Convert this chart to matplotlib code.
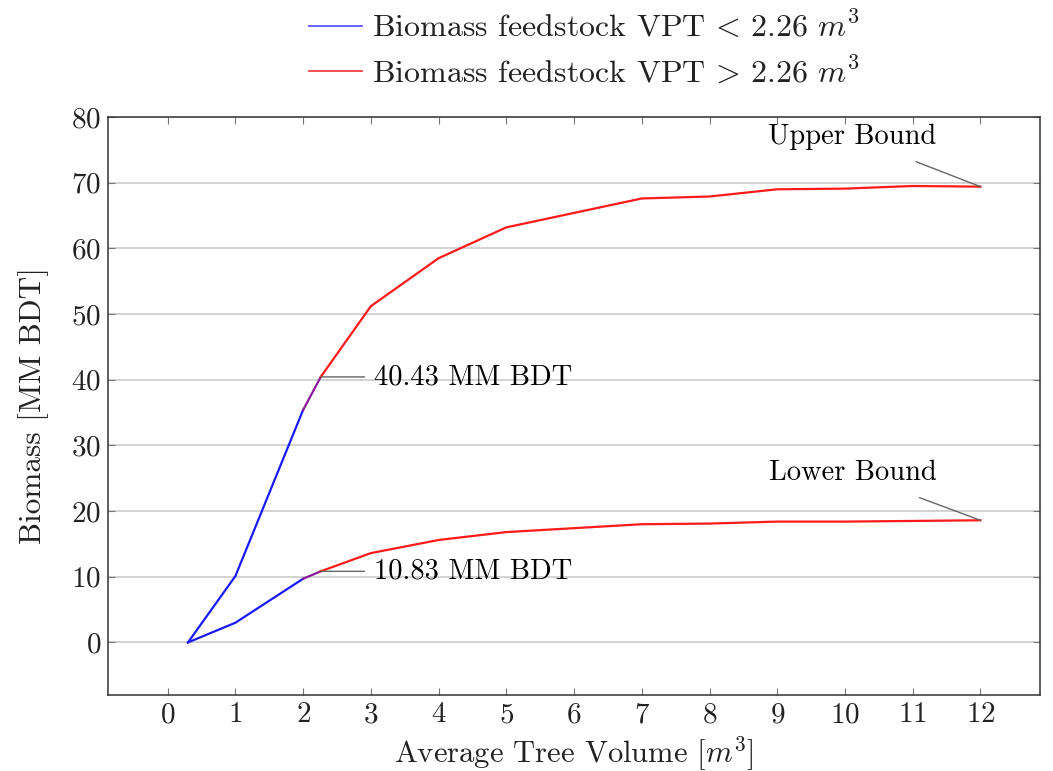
import numpy as np
import matplotlib
matplotlib.use("Agg")
import matplotlib.pyplot as plt

plt.rcParams['font.family'] = 'serif'
plt.rcParams['font.serif'] = ['cmr10', 'DejaVu Serif']
plt.rcParams['mathtext.fontset'] = 'cm'
plt.rcParams['axes.formatter.use_mathtext'] = True

# --- data ---
upper_low_x = [0.3, 1, 2]
upper_low_y = [0.0, 10.1, 35.4]
upper_high_x = [2.26, 3, 4, 5, 6, 7, 8, 9, 10, 11, 12]
upper_high_y = [40.43, 51.2, 58.5, 63.2, 65.4, 67.6, 67.9, 69.0, 69.1, 69.5, 69.4]

lower_low_x = [0.3, 1, 2]
lower_low_y = [0.0, 3.0, 9.7]
lower_high_x = [2.26, 3, 4, 5, 6, 7, 8, 9, 10, 11, 12]
lower_high_y = [10.83, 13.6, 15.6, 16.8, 17.4, 18.0, 18.1, 18.4, 18.4, 18.5, 18.6]

x_ticks = list(range(0, 13))
y_ticks = list(range(0, 81, 10))

BLUE = '#1a1aff'
RED = '#ff1a1a'
MIX = '#8a1a9a'

fig = plt.figure(figsize=(10.53, 7.71), dpi=100)
ax = fig.add_axes([0.1026, 0.0986, 0.8851, 0.7496])

for lx, ly, hx, hy in [(upper_low_x, upper_low_y, upper_high_x, upper_high_y),
                       (lower_low_x, lower_low_y, lower_high_x, lower_high_y)]:
    ax.plot(lx, ly, color=BLUE, lw=1.6, zorder=3)
    ax.plot([lx[-1], hx[0]], [ly[-1], hy[0]], color=MIX, lw=1.6, zorder=3)
    ax.plot(hx, hy, color=RED, lw=1.6, zorder=3)

# annotations
ann_color = '#666666'
FS_ANN = 20.5
ax.annotate('40.43 MM BDT', xy=(upper_high_x[0], upper_high_y[0]), xytext=(3.05, upper_high_y[0]),
            fontsize=FS_ANN, va='center', ha='left',
            arrowprops=dict(arrowstyle='-', color=ann_color, lw=1.0, shrinkA=5, shrinkB=0))
ax.annotate('10.83 MM BDT', xy=(lower_high_x[0], lower_high_y[0]), xytext=(3.05, lower_high_y[0]),
            fontsize=FS_ANN, va='center', ha='left',
            arrowprops=dict(arrowstyle='-', color=ann_color, lw=1.0, shrinkA=5, shrinkB=0))
ax.annotate('Upper Bound', xy=(upper_high_x[-1], upper_high_y[-1]), xytext=(10.1, 77.0),
            fontsize=FS_ANN, va='center', ha='center',
            arrowprops=dict(arrowstyle='-', color=ann_color, lw=1.0, shrinkA=18, shrinkB=0))
ax.annotate('Lower Bound', xy=(lower_high_x[-1], lower_high_y[-1]), xytext=(10.12, 25.8),
            fontsize=FS_ANN, va='center', ha='center',
            arrowprops=dict(arrowstyle='-', color=ann_color, lw=1.0, shrinkA=18, shrinkB=0))

ax.set_xlim(-0.88, 12.88)
ax.set_ylim(-8, 80)
ax.set_xticks(x_ticks)
ax.set_yticks(y_ticks)
ax.tick_params(direction='in', length=5, width=0.8, color='#777777', labelsize=21,
               top=True, right=True, labelcolor='#222222', pad=5)
ax.grid(axis='y', color='#cccccc', lw=1.2, zorder=0)
ax.set_axisbelow(True)
for s in ax.spines.values():
    s.set_color('#333333')
    s.set_linewidth(1.1)

ax.set_xlabel('Average Tree Volume [$m^3$]', fontsize=22, color='#222222', labelpad=4)
ax.set_ylabel('Biomass [MM BDT]', fontsize=22.5, color='#222222', labelpad=16)

h1, = ax.plot([], [], color='#5a5aff', lw=1.3)
h2, = ax.plot([], [], color='#ff4040', lw=1.3)
fig.legend([h1, h2], ['Biomass feedstock VPT$\\,<\\,$2.26 $m^3$', 'Biomass feedstock VPT$\\,>\\,$2.26 $m^3$'],
           loc='upper center', bbox_to_anchor=(0.555, 1.024), frameon=False, fontsize=23,
           handlelength=1.65, handletextpad=0.3, labelspacing=0.42, labelcolor='#222222')

fig.savefig('out.png', dpi=100)
